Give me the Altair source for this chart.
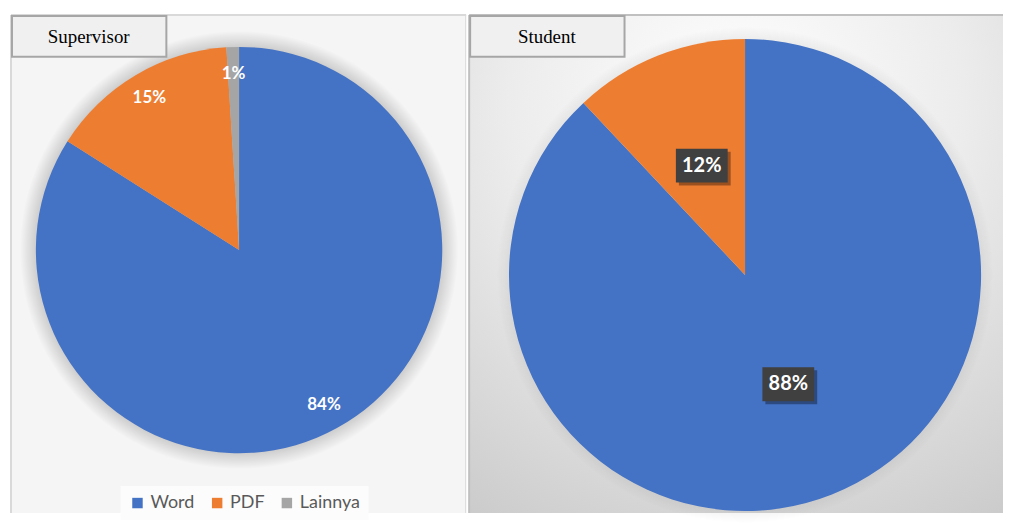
import altair as alt
import pandas as pd

# ---- data ----
categories = ["Word", "PDF", "Lainnya"]
supervisor_values = [84, 15, 1]
student_values = [88, 12, 0]
colors = ["#4472C4", "#ED7D31", "#A5A5A5"]
panel_titles = ["Supervisor", "Student"]


def make_df(vals):
    return pd.DataFrame({"cat": categories, "value": vals, "idx": list(range(len(categories)))})


sup_df = make_df(supervisor_values)
stu_df = make_df(student_values)
color_scale = alt.Scale(domain=categories, range=colors)

LW, RW, H = 457, 536, 500
one = pd.DataFrame({"a": [0]})


def background(w, h, fill, stroke, right_edge=True):
    layers = [
        alt.Chart(one).mark_rect(fill=fill, strokeWidth=0).encode(
            x=alt.value(0), x2=alt.value(w), y=alt.value(0), y2=alt.value(h)),
        alt.Chart(one).mark_rule(color=stroke, strokeWidth=2).encode(
            x=alt.value(0), x2=alt.value(w), y=alt.value(0)),
        alt.Chart(one).mark_rule(color=stroke, strokeWidth=2).encode(
            x=alt.value(0), y=alt.value(0), y2=alt.value(h)),
    ]
    if right_edge:
        layers.append(alt.Chart(one).mark_rule(color=stroke, strokeWidth=1).encode(
            x=alt.value(w - 0.5), y=alt.value(0), y2=alt.value(h)))
    return alt.layer(*layers)


def title_box(text):
    d = pd.DataFrame({"t": [text]})
    box = alt.Chart(d).mark_rect(fill="#f0f0f0", stroke="#a6a6a6", strokeWidth=2).encode(
        x=alt.value(1), x2=alt.value(156), y=alt.value(1), y2=alt.value(42))
    txt = alt.Chart(d).mark_text(font="Liberation Serif", fontSize=19, color="black").encode(
        x=alt.value(78), y=alt.value(22), text="t:N")
    return box + txt


def halo(cx, cy, r, alpha):
    grad = alt.RadialGradient(
        gradient="radial",
        stops=[alt.GradientStop(color=f"rgba(0,0,0,{alpha})", offset=0),
               alt.GradientStop(color=f"rgba(0,0,0,{alpha})", offset=0.9),
               alt.GradientStop(color="rgba(0,0,0,0)", offset=1)],
        x1=0.5, y1=0.5, r1=0, x2=0.5, y2=0.5, r2=0.5)
    return alt.Chart(one).mark_arc(theta=0, theta2=6.2832, radius=r, fill=grad).encode(
        x=alt.value(cx), y=alt.value(cy))


def arcs(df, cx, cy, r, legend):
    return alt.Chart(df).mark_arc(radius=r).encode(
        theta=alt.Theta("value:Q", stack=True),
        order=alt.Order("idx:Q"),
        color=alt.Color("cat:N", scale=color_scale, sort=categories, legend=legend),
        x=alt.value(cx), y=alt.value(cy))


def label_base(df, cx, cy, rl):
    return alt.Chart(df).transform_filter("datum.value > 0").transform_joinaggregate(
        total="sum(value)"
    ).transform_window(
        cum="sum(value)", sort=[alt.SortField("idx")], frame=[None, 0]
    ).transform_calculate(
        mid="(datum.cum - datum.value/2)/datum.total*2*PI",
    ).transform_calculate(
        lx=f"{cx} + {rl}*sin(datum.mid)",
        ly=f"{cy} - {rl}*cos(datum.mid)",
        label="datum.value + '%'",
    )


legend = alt.Legend(orient="none", legendX=110, legendY=473, direction="horizontal", title=None,
                    symbolType="square", symbolSize=110, symbolStrokeWidth=0,
                    labelFontSize=18, labelFont="Lato", labelColor="#595959",
                    columnPadding=13, fillColor="#fcfcfc", padding=8)

# ---- left panel ----
lcx, lcy, lr = 229, 236, 204
lbase = label_base(sup_df, lcx, lcy, 177)
left_labels = lbase.mark_text(font="Lato", fontWeight="bold", fontSize=17, color="white").encode(
    x=alt.X("lx:Q", scale=None), y=alt.Y("ly:Q", scale=None), text="label:N")
left = alt.layer(
    background(LW, H, "#f5f5f5", "#d9d9d9"),
    halo(lcx, lcy, lr + 16, 0.22),
    arcs(sup_df, lcx, lcy, lr, legend),
    left_labels,
    title_box(panel_titles[0]),
).properties(width=LW, height=H)

# ---- right panel ----
rgrad = alt.RadialGradient(
    gradient="radial",
    stops=[alt.GradientStop(color="#ffffff", offset=0),
           alt.GradientStop(color="#ececec", offset=0.45),
           alt.GradientStop(color="#c9c9c9", offset=1)],
    x1=0.5, y1=0.2, r1=0, x2=0.5, y2=0.2, r2=0.95)
rcx, rcy, rr = 277, 261, 237
rbase = label_base(stu_df, rcx, rcy, 118).transform_calculate(
    bx1="datum.lx - 26", bx2="datum.lx + 26", by1="datum.ly - 17", by2="datum.ly + 17",
    sx1="datum.lx - 23", sx2="datum.lx + 29", sy1="datum.ly - 14", sy2="datum.ly + 20")
shadow = rbase.mark_rect(color="black", opacity=0.35).encode(
    x=alt.X("sx1:Q", scale=None), x2="sx2:Q", y=alt.Y("sy1:Q", scale=None), y2="sy2:Q")
boxes = rbase.mark_rect(color="#404040").encode(
    x=alt.X("bx1:Q", scale=None), x2="bx2:Q", y=alt.Y("by1:Q", scale=None), y2="by2:Q")
right_labels = rbase.mark_text(font="Lato", fontWeight="bold", fontSize=20, color="white").encode(
    x=alt.X("lx:Q", scale=None), y=alt.Y("ly:Q", scale=None), text="label:N")
right = alt.layer(
    background(RW, H, rgrad, "#c0c0c0", right_edge=False),
    halo(rcx, rcy, rr + 12, 0.1),
    arcs(stu_df, rcx, rcy, rr, None),
    shadow, boxes, right_labels,
    title_box(panel_titles[1]),
).properties(width=RW, height=H)

chart = alt.hconcat(left, right, spacing=1).resolve_scale(color="independent").properties(
    padding={"left": 2, "top": 5, "right": 0, "bottom": 0}
).configure_view(stroke=None)

chart.save("out.html", embed_options={"renderer": "svg", "actions": False})
